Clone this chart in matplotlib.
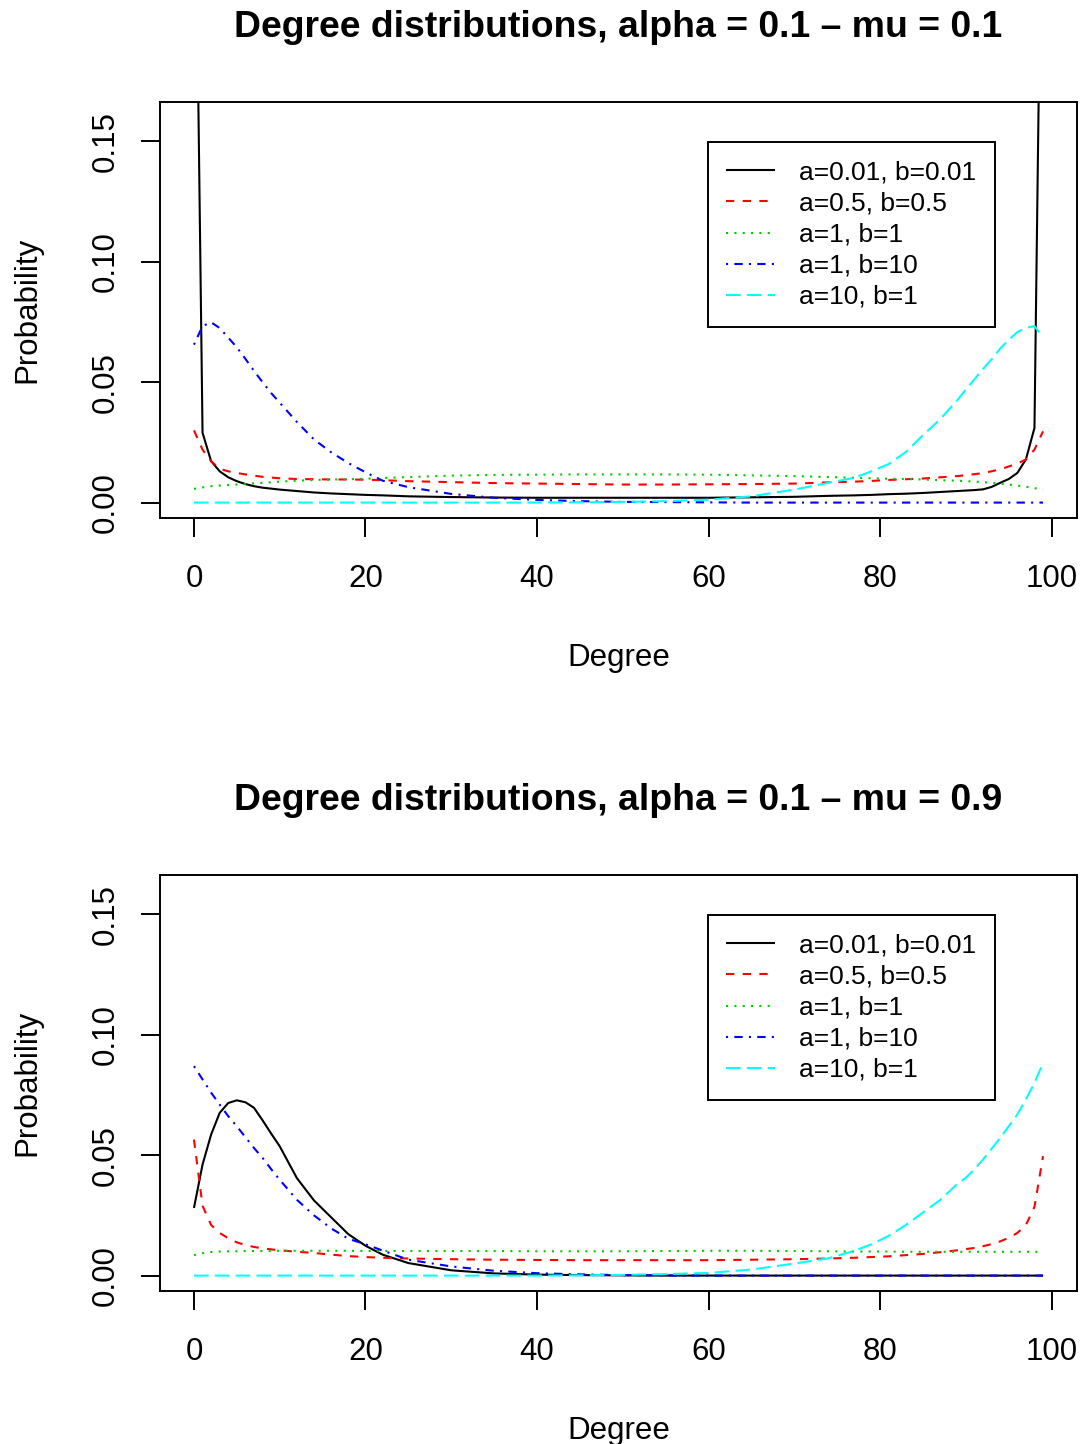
import matplotlib
matplotlib.use("Agg")
import matplotlib.pyplot as plt

plt.rcParams['font.family'] = ['Liberation Sans', 'DejaVu Sans']

# Degrees at which the distributions are tabulated
degrees = [0, 1, 2, 3, 4, 5, 6, 7, 8, 9, 10, 12, 14, 16, 18, 20, 22, 25, 30, 35,
           40, 45, 50, 55, 60, 65, 70, 74, 77, 79, 81, 83, 85, 87, 89, 90, 91, 92,
           93, 94, 95, 96, 97, 98, 99]

series_labels = ["a=0.01, b=0.01", "a=0.5, b=0.5", "a=1, b=1", "a=1, b=10", "a=10, b=1"]

# alpha = 0.1, mu = 0.1
mu01_a001 = [0.31, 0.029, 0.0172, 0.013, 0.0105, 0.0089, 0.0077, 0.0068, 0.0062, 0.0058,
             0.0054, 0.0048, 0.0042, 0.0038, 0.0035, 0.0032, 0.0030, 0.0026, 0.0023, 0.0021,
             0.0020, 0.0020, 0.0020, 0.0020, 0.0020, 0.0022, 0.0024, 0.0028, 0.0030, 0.0032,
             0.0035, 0.0037, 0.0040, 0.0044, 0.0048, 0.0050, 0.0052, 0.0055, 0.0065, 0.0082,
             0.0098, 0.0123, 0.0179, 0.031, 0.31]
mu01_a05 = [0.030, 0.022, 0.0172, 0.014, 0.013, 0.0123, 0.0117, 0.0112, 0.0107, 0.0104,
            0.0101, 0.0098, 0.0097, 0.0096, 0.0096, 0.0095, 0.0093, 0.0089, 0.0085, 0.0081,
            0.0079, 0.0077, 0.0075, 0.0075, 0.0076, 0.0077, 0.0079, 0.0084, 0.0087, 0.0090,
            0.0094, 0.0097, 0.0100, 0.0105, 0.0110, 0.0114, 0.0118, 0.0123, 0.0130, 0.0138,
            0.0150, 0.0162, 0.0179, 0.022, 0.0296]
mu01_a1 = [0.0057, 0.0063, 0.0068, 0.0071, 0.0073, 0.0075, 0.0077, 0.0080, 0.0082, 0.0084,
           0.0087, 0.0091, 0.0094, 0.0096, 0.0097, 0.0099, 0.0102, 0.0106, 0.0112, 0.0115,
           0.0116, 0.0117, 0.0117, 0.0117, 0.0116, 0.0113, 0.0110, 0.0106, 0.0103, 0.0101,
           0.0099, 0.0098, 0.0096, 0.0093, 0.0091, 0.0089, 0.0087, 0.0085, 0.0082, 0.0079,
           0.0075, 0.0071, 0.0066, 0.0060, 0.0054]
mu01_a1b10 = [0.0656, 0.0733, 0.0749, 0.0725, 0.0685, 0.0645, 0.0597, 0.0547, 0.0500, 0.0455,
              0.0415, 0.0335, 0.0262, 0.0209, 0.0164, 0.0126, 0.0091, 0.0064, 0.0036, 0.0020,
              0.0011, 0.0006, 0.0003, 0.0002, 0.0001, 0.0, 0.0, 0.0, 0.0, 0.0,
              0.0, 0.0, 0.0, 0.0, 0.0, 0.0, 0.0, 0.0, 0.0, 0.0,
              0.0, 0.0, 0.0, 0.0, 0.0]
mu01_a10b1 = [0.0, 0.0, 0.0, 0.0, 0.0, 0.0, 0.0, 0.0, 0.0, 0.0,
              0.0, 0.0, 0.0, 0.0, 0.0, 0.0, 0.0, 0.0, 0.0, 0.0,
              0.0, 0.0001, 0.0003, 0.0006, 0.0012, 0.0026, 0.0054, 0.0082, 0.0103, 0.0130,
              0.0160, 0.0210, 0.0280, 0.0346, 0.0425, 0.0470, 0.0512, 0.0555, 0.0595, 0.0640,
              0.0676, 0.0708, 0.0726, 0.0733, 0.0686]

# alpha = 0.1, mu = 0.9
mu09_a001 = [0.0281, 0.0461, 0.0586, 0.0676, 0.0717, 0.0728, 0.0720, 0.0697, 0.0645, 0.0590,
             0.0537, 0.0405, 0.0312, 0.0242, 0.0172, 0.0124, 0.0087, 0.0052, 0.0022, 0.0009,
             0.0004, 0.0002, 0.0001, 0.0, 0.0, 0.0, 0.0, 0.0, 0.0, 0.0,
             0.0, 0.0, 0.0, 0.0, 0.0, 0.0, 0.0, 0.0, 0.0, 0.0,
             0.0, 0.0, 0.0, 0.0, 0.0]
mu09_a05 = [0.0565, 0.029, 0.021, 0.0177, 0.0155, 0.0138, 0.0127, 0.0119, 0.0113, 0.0109,
            0.0105, 0.0099, 0.0094, 0.0087, 0.0081, 0.0077, 0.0074, 0.0071, 0.0068, 0.0066,
            0.0065, 0.0064, 0.0064, 0.0064, 0.0064, 0.0066, 0.0068, 0.0071, 0.0074, 0.0077,
            0.0080, 0.0085, 0.0090, 0.0097, 0.0105, 0.0110, 0.0115, 0.0122, 0.0131, 0.0142,
            0.0157, 0.0177, 0.0210, 0.0285, 0.0496]
mu09_a1 = [0.0085, 0.0093, 0.0098, 0.0100, 0.0101, 0.0101, 0.0102, 0.0102, 0.0102, 0.0102,
           0.0103, 0.0103, 0.0103, 0.0103, 0.0103, 0.0102, 0.0102, 0.0102, 0.0102, 0.0102,
           0.0101, 0.0101, 0.0101, 0.0102, 0.0103, 0.0103, 0.0102, 0.0101, 0.0100, 0.0100,
           0.0100, 0.0099, 0.0099, 0.0099, 0.0099, 0.0099, 0.0099, 0.0099, 0.0099, 0.0099,
           0.0099, 0.0099, 0.0099, 0.0099, 0.0098]
mu09_a1b10 = [0.0870, 0.0815, 0.0760, 0.0710, 0.0662, 0.0620, 0.0575, 0.0530, 0.0489, 0.0442,
              0.0398, 0.0315, 0.0250, 0.0196, 0.0153, 0.0130, 0.0104, 0.0066, 0.0038, 0.0020,
              0.0010, 0.0005, 0.0002, 0.0001, 0.0, 0.0, 0.0, 0.0, 0.0, 0.0,
              0.0, 0.0, 0.0, 0.0, 0.0, 0.0, 0.0, 0.0, 0.0, 0.0,
              0.0, 0.0, 0.0, 0.0, 0.0]
mu09_a10b1 = [0.0, 0.0, 0.0, 0.0, 0.0, 0.0, 0.0, 0.0, 0.0, 0.0,
              0.0, 0.0, 0.0, 0.0, 0.0, 0.0, 0.0, 0.0, 0.0, 0.0,
              0.0, 0.0001, 0.0003, 0.0006, 0.0011, 0.0025, 0.0050, 0.0072, 0.0103, 0.0130,
              0.0165, 0.0210, 0.0262, 0.0314, 0.0380, 0.0406, 0.0442, 0.0482, 0.0527, 0.0572,
              0.0620, 0.0669, 0.0732, 0.0800, 0.0884]

x_ticks = [0, 20, 40, 60, 80, 100]
y_ticks = [0.00, 0.05, 0.10, 0.15]
y_tick_labels = ["0.00", "0.05", "0.10", "0.15"]

colors = ["black", "#FF0000", "#00CD00", "#0000FF", "#00FFFF"]
dash_styles = [None, (4, 4), (1, 3), (1, 3, 4, 3), (7, 3)]

W, H = 1085, 1444
fig = plt.figure(figsize=(W / 100, H / 100), dpi=100)

TICK_FS = 22.5
LEG_FS = 19


def panel(top_px, title, curves):
    ax = fig.add_axes([160 / W, 1 - (top_px + 416) / H, 917 / W, 416 / H])
    for vals, col, ds, lab in zip(curves, colors, dash_styles, series_labels):
        line, = ax.plot(degrees, vals, color=col, lw=1.5, label=lab,
                        solid_capstyle="butt", dash_capstyle="butt")
        if ds is not None:
            line.set_dashes(ds)
    ax.set_xlim(-3.96, 102.96)
    ax.set_ylim(-0.0064, 0.1664)
    ax.set_xticks(x_ticks)
    ax.set_xticklabels([str(t) for t in x_ticks], fontsize=TICK_FS)
    ax.set_yticks(y_ticks)
    ax.set_yticklabels(y_tick_labels, fontsize=TICK_FS, rotation=90, va="center")
    ax.tick_params(axis="x", direction="out", length=13.5, width=1.4, pad=19.5)
    ax.tick_params(axis="y", direction="out", length=13.5, width=1.4, pad=15)
    for s in ax.spines.values():
        s.set_linewidth(1.4)
    ax.set_xlabel("Degree", fontsize=TICK_FS)
    ax.xaxis.set_label_coords(0.5, -0.337)
    ax.xaxis.label.set_va("center")
    ax.set_ylabel("Probability", fontsize=TICK_FS)
    ax.yaxis.set_label_coords(-0.145, 0.5)
    ax.yaxis.label.set_va("center")
    ax.text(0.5, 1.178, title, transform=ax.transAxes, ha="center", va="center",
            fontsize=26.9, fontweight="bold")
    leg = ax.legend(loc="upper left", bbox_to_anchor=(0.5976, 0.9038), fontsize=LEG_FS,
                    frameon=True, fancybox=False, shadow=False, framealpha=1,
                    edgecolor="black", borderaxespad=0, borderpad=0.7,
                    handlelength=1.85, handletextpad=0.9, labelspacing=0.27)
    leg.get_frame().set_linewidth(1.4)
    return ax


panel(102, "Degree distributions, alpha = 0.1 \u2013 mu = 0.1",
      [mu01_a001, mu01_a05, mu01_a1, mu01_a1b10, mu01_a10b1])
panel(875, "Degree distributions, alpha = 0.1 \u2013 mu = 0.9",
      [mu09_a001, mu09_a05, mu09_a1, mu09_a1b10, mu09_a10b1])

fig.savefig("out.png", dpi=100)
